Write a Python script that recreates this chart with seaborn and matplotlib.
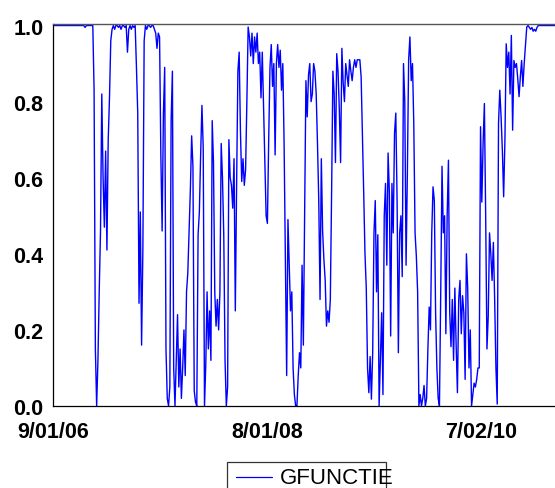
import numpy as np
import pandas as pd
import matplotlib
matplotlib.use("Agg")
import matplotlib.pyplot as plt
from matplotlib.ticker import FixedLocator, NullFormatter
from matplotlib.lines import Line2D
from matplotlib.patches import Rectangle
import seaborn as sns

# ---- data (one value every 3rd business day from 9/01/06) ----
series_name = "GFUNCTIE"
step_bdays = 3
gfunctie = [
    1.0, 1.0, 1.0, 1.0, 1.0, 1.0, 1.0, 1.0, 1.0, 1.0,
    1.0, 1.0, 1.0, 1.0, 1.0, 1.0, 1.0, 1.0, 1.0, 1.0,
    1.0, 1.0, 1.0, 1.0, 1.0, 0.995, 1.0, 1.0, 1.0, 1.0,
    1.0, 1.0, 0.83, 0.15, 0.0, 0.12, 0.30, 0.46, 0.82, 0.60,
    0.47, 0.67, 0.41, 0.70, 0.81, 0.96, 0.99, 1.0, 0.99, 1.0,
    1.0, 0.995, 1.0, 0.99, 1.0, 1.0, 0.995, 1.0, 0.93, 0.99,
    1.0, 0.99, 1.0, 0.995, 1.0, 0.89, 0.77, 0.27, 0.51, 0.16,
    0.41, 0.96, 1.0, 0.99, 1.0, 1.0, 0.995, 1.0, 1.0, 0.99,
    0.98, 0.94, 0.98, 0.97, 0.66, 0.46, 0.77, 0.89, 0.15, 0.02,
    0.0, 0.05, 0.75, 0.88, 0.10, 0.0, 0.12, 0.24, 0.05, 0.15,
    0.02, 0.10, 0.20, 0.08, 0.30, 0.35, 0.46, 0.57, 0.71, 0.63,
    0.04, 0.01, 0.0, 0.45, 0.51, 0.66, 0.79, 0.68, 0.0, 0.11,
    0.30, 0.15, 0.25, 0.12, 0.75, 0.64, 0.30, 0.21, 0.28, 0.20,
    0.30, 0.69, 0.60, 0.45, 0.12, 0.0, 0.05, 0.70, 0.60, 0.58,
    0.52, 0.65, 0.25, 0.58, 0.88, 0.93, 0.72, 0.59, 0.65, 0.58,
    0.62, 0.80, 0.996, 0.97, 0.92, 0.98, 0.90, 0.97, 0.93, 0.98,
    0.90, 0.93, 0.81, 0.93, 0.79, 0.66, 0.50, 0.48, 0.70, 0.89,
    0.95, 0.84, 0.90, 0.66, 0.90, 0.95, 0.89, 0.935, 0.83, 0.90,
    0.69, 0.38, 0.08, 0.49, 0.37, 0.25, 0.30, 0.10, 0.03, 0.0,
    0.0, 0.08, 0.14, 0.10, 0.37, 0.16, 0.50, 0.855, 0.76, 0.87,
    0.90, 0.80, 0.82, 0.90, 0.88, 0.82, 0.69, 0.54, 0.28, 0.65,
    0.46, 0.385, 0.33, 0.21, 0.25, 0.22, 0.28, 0.56, 0.88, 0.82,
    0.64, 0.926, 0.88, 0.78, 0.64, 0.94, 0.85, 0.80, 0.90, 0.87,
    0.84, 0.91, 0.88, 0.855, 0.89, 0.91, 0.89, 0.91, 0.91, 0.91,
    0.865, 0.716, 0.56, 0.40, 0.31, 0.10, 0.035, 0.13, 0.018, 0.14,
    0.455, 0.54, 0.30, 0.45, 0.0, 0.12, 0.245, 0.03, 0.50, 0.585,
    0.37, 0.665, 0.56, 0.184, 0.585, 0.455, 0.716, 0.77, 0.54, 0.14,
    0.455, 0.50, 0.34, 0.90, 0.80, 0.37, 0.61, 0.91, 0.97, 0.855,
    0.90, 0.743, 0.455, 0.394, 0.30, 0.0, 0.03, 0.0, 0.02, 0.054,
    0.0, 0.02, 0.15, 0.26, 0.20, 0.455, 0.576, 0.54, 0.245, 0.10,
    0.02, 0.0, 0.30, 0.63, 0.455, 0.50, 0.19, 0.50, 0.646, 0.245,
    0.156, 0.28, 0.12, 0.31, 0.16, 0.035, 0.28, 0.33, 0.19, 0.29,
    0.245, 0.07, 0.40, 0.31, 0.10, 0.20, 0.0, 0.03, 0.06, 0.05,
    0.07, 0.10, 0.10, 0.734, 0.536, 0.69, 0.795, 0.50, 0.15, 0.236,
    0.455, 0.40, 0.33, 0.43, 0.28, 0.10, 0.005, 0.743, 0.83, 0.76,
    0.672, 0.55, 0.70, 0.952, 0.89, 0.93, 0.82, 0.974, 0.725, 0.908,
    0.89, 0.90, 0.86, 0.813, 0.865, 0.908, 0.84, 0.90, 0.95, 0.996,
    1.0, 0.995, 0.99, 0.995, 0.985, 0.99, 0.985, 0.995, 1.0, 1.0,
    1.0, 1.0, 1.0, 1.0, 1.0, 1.0, 1.0, 1.0, 1.0, 1.0,
    1.0, 1.0,
]
tick_obs = [0, 500, 1000]
tick_labels = ["9/01/06", "8/01/08", "7/02/10"]
y_ticks = [0.0, 0.2, 0.4, 0.6, 0.8, 1.0]

df = pd.DataFrame({
    "obs": np.arange(len(gfunctie)) * step_bdays,
    series_name: gfunctie,
})

# ---- figure ----
sns.set_style("white")
plt.rcParams["font.family"] = ["Liberation Sans", "DejaVu Sans"]

fig = plt.figure(figsize=(5.55, 4.89), dpi=100)
ax = fig.add_axes([53 / 555, 82 / 489, 1.0 - 53 / 555, 382 / 489])

sns.lineplot(data=df, x="obs", y=series_name, ax=ax, color="#0000ff",
             linewidth=1.0, label=series_name, legend=False)

last_obs = df["obs"].iloc[-1]
ax.set_xlim(0, last_obs)
ax.set_ylim(0, 1.004)
ax.set_xlabel("")
ax.set_ylabel("")

# x ticks: major every 100 obs, 6 minor intervals between majors
majors = list(range(0, int(last_obs) + 1, 100))
minors = [m + i * 100 / 6 for m in majors for i in range(1, 6) if m + i * 100 / 6 < last_obs]
ax.xaxis.set_major_locator(FixedLocator(majors))
ax.xaxis.set_minor_locator(FixedLocator(minors))
ax.set_xticklabels([tick_labels[tick_obs.index(m)] if m in tick_obs else "" for m in majors])
ax.xaxis.set_minor_formatter(NullFormatter())
ax.tick_params(axis="x", which="major", direction="out", length=8, width=0.8,
               color="black", pad=2.5, labelsize=15.5)
ax.tick_params(axis="x", which="minor", direction="out", length=4.3, width=0.8,
               color="black")
ax.set_yticks(y_ticks)
ax.set_yticklabels([f"{v:.1f}" for v in y_ticks])
ax.tick_params(axis="y", which="major", direction="out", length=5.5, width=0.8,
               color="black", pad=1.5, labelsize=15.5)
for lab in ax.get_xticklabels() + ax.get_yticklabels():
    lab.set_fontweight("bold")
    lab.set_color("black")

for side in ["left", "bottom"]:
    ax.spines[side].set_visible(True)
    ax.spines[side].set_color("black")
    ax.spines[side].set_linewidth(0.9)
ax.spines["top"].set_visible(True)
ax.spines["top"].set_color("#555555")
ax.spines["top"].set_linewidth(1.0)
ax.spines["right"].set_visible(False)

# ---- legend box (partly cut off at the bottom, as in the reference) ----
line = ax.get_lines()[0]
fig.patches.append(Rectangle((227 / 555, -0.03), 159 / 555, 0.03 + 26.5 / 489,
                             transform=fig.transFigure, fill=False,
                             edgecolor="#333333", linewidth=0.9))
fig.lines.append(Line2D([236 / 555, 272 / 555], [11 / 489, 11 / 489],
                        transform=fig.transFigure, color=line.get_color(),
                        linewidth=0.9))
fig.text(280 / 555, 10.5 / 489, line.get_label(), fontsize=16,
         ha="left", va="center", color="black")

fig.savefig("out.png", dpi=100)
